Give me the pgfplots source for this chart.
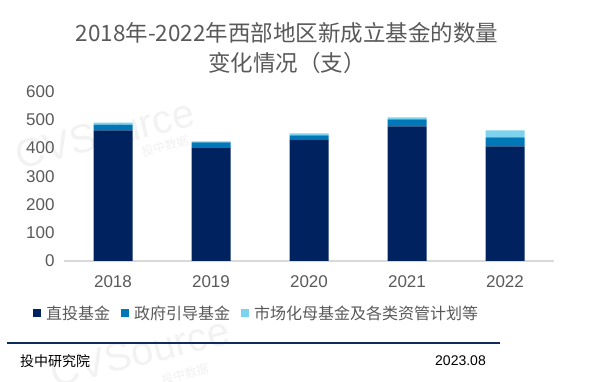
\documentclass[border=0pt]{standalone}
\usepackage{pgfplots}
\pgfplotsset{compat=1.18}
\usepackage{fontspec}
\setmainfont{Liberation Sans}
\newfontfamily\cjk{Noto Sans CJK SC}
\definecolor{cA}{HTML}{002360}
\definecolor{cB}{HTML}{0077B6}
\definecolor{cC}{HTML}{7DD3EE}
\definecolor{txt}{HTML}{595959}
\definecolor{navy}{HTML}{0F2A5C}
\begin{document}
\begin{tikzpicture}[x=1pt,y=1pt]
\useasboundingbox (0pt,0pt) rectangle (590pt,382pt);
% watermark
\node[rotate=14,text=gray!10,font=\fontsize{40}{40}\selectfont,anchor=center] at (105pt,248pt) {CVSource};
\node[rotate=14,text=gray!12,font=\cjk\fontsize{12}{12}\selectfont] at (165pt,236pt) {投中数据};
\node[rotate=14,text=gray!10,font=\fontsize{40}{40}\selectfont,anchor=center] at (140pt,30pt) {CVSource};
\node[rotate=14,text=gray!12,font=\cjk\fontsize{12}{12}\selectfont] at (185pt,8pt) {投中数据};
% title
\node[text=txt,font=\cjk\fontsize{22.5}{30}\selectfont,align=center] at (287pt,334pt) {2018年-2022年西部地区新成立基金的数量\\变化情况（支）};
\begin{axis}[
  at={(64pt,121pt)}, anchor=south west,
  scale only axis, width=490pt, height=169.3pt,
  xmin=-0.5, xmax=4.5, ymin=0, ymax=600,
  ybar stacked, bar width=39pt,
  axis lines*=left,
  x axis line style={draw=black!15, line width=2pt},
  y axis line style={draw=none},
  major tick length=0pt,
  xtick={0,1,2,3,4},
  xticklabels={2018,2019,2020,2021,2022},
  ytick={0,100,200,300,400,500,600},
  /pgf/number format/assume math mode=true,
  every tick label/.append style={text=txt, font=\fontsize{17}{17}\selectfont},
  yticklabel style={xshift=-6pt},
  xticklabel style={yshift=-11pt},
  legend columns=3,
  legend style={at={(0.391,-0.307)}, anchor=center, draw=none, fill=none,
    font=\cjk\fontsize{16}{16}\selectfont, text=txt,
    nodes={inner sep=0pt},
    /tikz/every odd column/.append style={column sep=5pt},
    /tikz/every even column/.append style={column sep=11pt},
    inner sep=0pt},
  legend image code/.code={\fill[#1] (0pt,-4pt) rectangle (8pt,4pt);},
]
\addplot[fill=cA, draw=none] coordinates {(0,463) (1,400) (2,431) (3,477) (4,406)};
\addplot[fill=cB, draw=none] coordinates {(0,20) (1,20) (2,14) (3,25) (4,32)};
\addplot[fill=cC, draw=none] coordinates {(0,7) (1,4) (2,7) (3,7) (4,25)};
\legend{直投基金,政府引导基金,市场化母基金及各类资管计划等}
\end{axis}
% footer
\draw[navy, line width=2pt] (7pt,39pt) -- (500pt,39pt);
\node[anchor=west, font=\cjk\fontsize{14}{14}\selectfont, inner sep=0pt] at (20pt,21pt) {投中研究院};
\node[anchor=east, font=\fontsize{14}{14}\selectfont, inner sep=0pt] at (486pt,21pt) {2023.08};
\end{tikzpicture}
\end{document}
